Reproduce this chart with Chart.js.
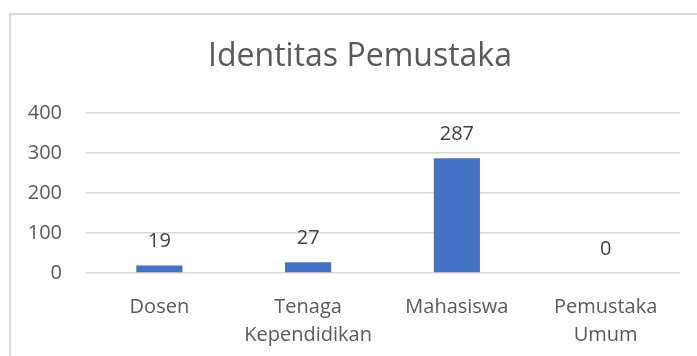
<!DOCTYPE html>
<html>
<head>
<meta charset="utf-8">
<script src="https://cdn.jsdelivr.net/npm/chart.js@4"></script>
<style>
  body { margin: 0; background: #fff; }
  #wrap { position: relative; width: 697px; height: 356px; overflow: hidden; }
  #frame { position: absolute; left: 9px; top: 13px; width: 800px; height: 500px;
           border-left: 2px solid #d9d9d9; border-top: 2px solid #d9d9d9; }
  canvas { position: absolute; left: 0; top: 0; }
</style>
</head>
<body>
<div id="wrap">
  <div id="frame"></div>
  <canvas id="graphique" width="697" height="356"></canvas>
</div>
<script>
// jumlah pemustaka per kategori
const kategori = ["Dosen", ["Tenaga", "Kependidikan"], "Mahasiswa", ["Pemustaka", "Umum"]];
const jumlah = [19, 27, 287, 0];
const labelSumbuY = [0, 100, 200, 300, 400];
const judul = "Identitas Pemustaka";

const fontUtama = "'Open Sans', sans-serif";

// judul ditengah bingkai, bukan ditengah kanvas
const judulGrafik = {
    id: 'judulGrafik',
    afterDraw(chart) {
        const ctx = chart.ctx;
        ctx.save();
        ctx.font = "32px " + fontUtama;
        ctx.fillStyle = "#595959";
        ctx.textAlign = "center";
        ctx.textBaseline = "middle";
        ctx.fillText(judul, 360, 57);
        ctx.restore();
    }
};

// tulis nilai di atas tiap batang
const labelNilai = {
    id: 'labelNilai',
    afterDatasetsDraw(chart) {
        const ctx = chart.ctx;
        const meta = chart.getDatasetMeta(0);
        ctx.save();
        ctx.font = "20px " + fontUtama;
        ctx.fillStyle = "#404040";
        ctx.textAlign = "center";
        ctx.textBaseline = "alphabetic";
        meta.data.forEach((bar, i) => {
            ctx.fillText(chart.data.datasets[0].data[i], bar.x, bar.y - 18);
        });
        ctx.restore();
    }
};

const ctx = document.getElementById("graphique").getContext("2d");
const myChart = new Chart(ctx, {
    type: 'bar',
    data: {
        labels: kategori,
        datasets: [{
            data: jumlah,
            backgroundColor: "#4472C4",
            barPercentage: 0.62,
            categoryPercentage: 0.5
        }]
    },
    options: {
        responsive: false,
        animation: false,
        layout: { padding: { left: 0, right: 17, top: 113, bottom: 0 } },
        plugins: {
            legend: { display: false },
            tooltip: { enabled: false },
            title: { display: false }
        },
        scales: {
            x: {
                grid: { display: false },
                border: { display: false },
                ticks: {
                    color: "#595959",
                    font: { family: fontUtama, size: 20, lineHeight: 1.4 },
                    padding: 12,
                    maxRotation: 0
                },
                afterFit(scale) { scale.height = 83; }
            },
            y: {
                min: 0,
                max: 400,
                afterBuildTicks(scale) {
                    scale.ticks = labelSumbuY.map(v => ({ value: v }));
                },
                grid: { color: "#d9d9d9", lineWidth: 1.5, drawTicks: false },
                border: { display: false },
                ticks: {
                    color: "#595959",
                    font: { family: fontUtama, size: 20 },
                    padding: 23
                },
                afterFit(scale) { scale.width = 85; }
            }
        }
    },
    plugins: [judulGrafik, labelNilai]
});
</script>
</body>
</html>
